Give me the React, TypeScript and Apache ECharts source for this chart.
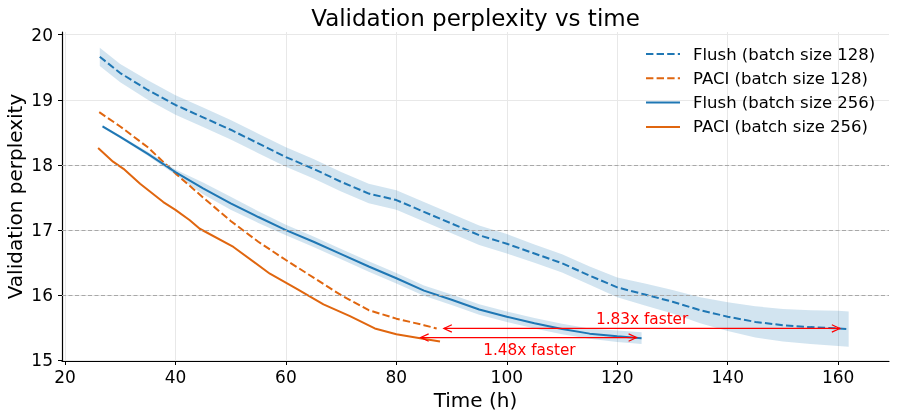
import React, { useEffect, useRef } from "react";
import * as echarts from "echarts";

const xTicks = [20, 40, 60, 80, 100, 120, 140, 160];
const yTicks = [15, 16, 17, 18, 19, 20];
const dashedYLines = [16, 17, 18];

const seriesNames = [
  "Flush (batch size 128)",
  "PACI (batch size 128)",
  "Flush (batch size 256)",
  "PACI (batch size 256)",
];

const flush128X = [26.3, 30, 35, 40, 45, 50, 55, 60, 65, 70, 75, 80, 85, 90, 95, 100, 105, 110, 115, 120, 125, 130, 135, 140, 145, 150, 155, 160, 161.9];
const flush128Y = [19.66, 19.41, 19.15, 18.92, 18.73, 18.54, 18.33, 18.12, 17.94, 17.74, 17.56, 17.46, 17.28, 17.1, 16.92, 16.79, 16.64, 16.49, 16.3, 16.12, 16.01, 15.9, 15.77, 15.67, 15.59, 15.54, 15.51, 15.49, 15.48];
const flush128Half = [0.14, 0.14, 0.15, 0.15, 0.15, 0.15, 0.15, 0.15, 0.15, 0.15, 0.15, 0.15, 0.15, 0.15, 0.15, 0.15, 0.14, 0.14, 0.14, 0.15, 0.17, 0.18, 0.2, 0.22, 0.24, 0.25, 0.26, 0.27, 0.27];

const paci128X = [26.2, 30, 35, 40, 45, 50, 55, 60, 65, 70, 75, 80, 85, 87.3];
const paci128Y = [18.81, 18.59, 18.27, 17.87, 17.5, 17.14, 16.82, 16.54, 16.27, 16.0, 15.77, 15.64, 15.54, 15.49];

const flush256X = [26.8, 30, 35, 40, 45, 50, 55, 60, 65, 70, 75, 80, 85, 90, 95, 100, 105, 110, 115, 120, 124.4];
const flush256Y = [18.59, 18.43, 18.17, 17.89, 17.64, 17.41, 17.2, 17.0, 16.82, 16.63, 16.44, 16.26, 16.07, 15.93, 15.78, 15.67, 15.57, 15.48, 15.41, 15.37, 15.34];
const flush256Half = [0.02, 0.02, 0.03, 0.04, 0.09, 0.1, 0.09, 0.08, 0.08, 0.08, 0.08, 0.08, 0.08, 0.08, 0.08, 0.08, 0.08, 0.08, 0.08, 0.09, 0.09];

const paci256X = [26.0, 28.7, 30.6, 33.6, 37.8, 40, 42.6, 44.4, 50.5, 57.1, 61.9, 66.8, 71.6, 76.1, 80.0, 84.3, 87.9];
const paci256Y = [18.26, 18.05, 17.94, 17.71, 17.43, 17.31, 17.15, 17.02, 16.74, 16.33, 16.1, 15.86, 15.68, 15.49, 15.4, 15.34, 15.29];

const arrowFrom = [88.6, 84.4];
const arrowTo = [160.3, 123.5];
const arrowY = [15.49, 15.35];
const arrowLabels = ["1.83x faster", "1.48x faster"];
const arrowLabelX = [124.5, 104.1];
const arrowLabelY = [15.64, 15.16];

const BLUE = "#1f77b4";
const ORANGE = "#e0660f";
const FONT = "DejaVu Sans";
const DASH = [7.4, 3.2];

function zip(xs: number[], ys: number[]) {
  return xs.map((x, i) => [x, ys[i]]);
}

function bandSeries(xs: number[], ys: number[], half: number[]) {
  const data = xs.map((x, i) => [x, ys[i] - half[i], ys[i] + half[i]]);
  return {
    type: "custom",
    silent: true,
    z: 1,
    data,
    encode: { x: 0, y: [1, 2] },
    renderItem: (params: any, api: any) => {
      if (params.dataIndex !== 0) return null;
      const top = data.map((d) => api.coord([d[0], d[2]]));
      const bot = data.map((d) => api.coord([d[0], d[1]])).reverse();
      return {
        type: "polygon",
        shape: { points: top.concat(bot) },
        style: { fill: "rgba(31,119,180,0.2)", stroke: "none" },
      };
    },
  };
}

export default function App() {
  const ref = useRef<HTMLDivElement>(null);
  useEffect(() => {
    if (!ref.current) return;
    const chart = echarts.init(ref.current, undefined, { renderer: "svg" });
    const arrowData = arrowFrom.map((a, i) => [a, arrowTo[i], arrowY[i]]);
    const labelData = arrowLabels.map((t, i) => [arrowLabelX[i], arrowLabelY[i], t]);
    const option: any = {
      animation: false,
      textStyle: { fontFamily: FONT },
      graphic: [
        {
          type: "text",
          x: 475.5,
          y: 18,
          style: {
            text: "Validation perplexity vs time",
            fontSize: 23,
            fontFamily: FONT,
            fill: "#000",
            align: "center",
            verticalAlign: "middle",
          },
        },
      ],
      grid: { left: 62, right: 8, top: 32, bottom: 57, containLabel: false, outerBoundsMode: "none" },
      legend: {
        orient: "vertical",
        left: 645,
        top: 45.5,
        padding: 0,
        itemWidth: 34,
        itemHeight: 14,
        itemGap: 7.3,
        data: seriesNames,
        itemStyle: { color: "rgba(0,0,0,0)", borderWidth: 0, opacity: 0 },
        textStyle: { fontSize: 16.5, fontFamily: FONT, color: "#000", lineHeight: 17, padding: [0, 0, 0, 8] },
      },
      xAxis: {
        type: "value",
        min: 19.46,
        max: 169.2,
        name: "Time (h)",
        nameLocation: "middle",
        nameGap: 29,
        nameMoveOverlap: false,
        nameTextStyle: { fontSize: 20, fontFamily: FONT, color: "#000" },
        axisLine: { lineStyle: { color: "#000", width: 1.2 } },
        axisTick: { show: true, length: 4, customValues: xTicks, lineStyle: { color: "#000", width: 1 } },
        axisLabel: { customValues: xTicks, fontSize: 17, fontFamily: FONT, color: "#000", margin: 7 },
        splitLine: { show: true, lineStyle: { color: "#e8e8e8", width: 1 } },
      },
      yAxis: {
        type: "value",
        min: 14.99,
        max: 20.04,
        name: "Validation perplexity",
        nameLocation: "middle",
        nameGap: 37.5,
        nameMoveOverlap: false,
        nameTextStyle: { fontSize: 20, fontFamily: FONT, color: "#000" },
        axisLine: { show: true, lineStyle: { color: "#000", width: 1.2 } },
        axisTick: { show: true, length: 4, customValues: yTicks, lineStyle: { color: "#000", width: 1 } },
        axisLabel: { customValues: yTicks, fontSize: 17, fontFamily: FONT, color: "#000", margin: 9 },
        splitLine: { show: true, lineStyle: { color: "#e8e8e8", width: 1 } },
      },
      series: [
        {
          type: "line",
          data: [],
          silent: true,
          z: 1,
          markLine: {
            silent: true,
            symbol: "none",
            label: { show: false },
            lineStyle: { color: "#a8a8a8", width: 1, type: [4, 2.5] },
            data: dashedYLines.map((v) => ({ yAxis: v })),
          },
        },
        bandSeries(flush128X, flush128Y, flush128Half),
        bandSeries(flush256X, flush256Y, flush256Half),
        {
          name: seriesNames[0],
          type: "line",
          data: zip(flush128X, flush128Y),
          symbol: "none",
          showSymbol: false,
          z: 3,
          lineStyle: { color: BLUE, width: 2, type: DASH },
          itemStyle: { color: BLUE },
        },
        {
          name: seriesNames[1],
          type: "line",
          data: zip(paci128X, paci128Y),
          symbol: "none",
          showSymbol: false,
          z: 3,
          lineStyle: { color: ORANGE, width: 2, type: DASH },
          itemStyle: { color: ORANGE },
        },
        {
          name: seriesNames[2],
          type: "line",
          data: zip(flush256X, flush256Y),
          symbol: "none",
          showSymbol: false,
          z: 3,
          lineStyle: { color: BLUE, width: 2 },
          itemStyle: { color: BLUE },
        },
        {
          name: seriesNames[3],
          type: "line",
          data: zip(paci256X, paci256Y),
          symbol: "none",
          showSymbol: false,
          z: 3,
          lineStyle: { color: ORANGE, width: 2 },
          itemStyle: { color: ORANGE },
        },
        {
          type: "custom",
          silent: true,
          z: 5,
          data: arrowData,
          encode: { x: [0, 1], y: 2 },
          renderItem: (params: any, api: any) => {
            const p1 = api.coord([api.value(0), api.value(2)]);
            const p2 = api.coord([api.value(1), api.value(2)]);
            const st = { stroke: "#ff0000", lineWidth: 1.2, fill: "none" };
            return {
              type: "group",
              children: [
                { type: "line", shape: { x1: p1[0], y1: p1[1], x2: p2[0], y2: p2[1] }, style: st },
                { type: "polyline", shape: { points: [[p1[0] + 8, p1[1] - 3.7], [p1[0], p1[1]], [p1[0] + 8, p1[1] + 3.7]] }, style: st },
                { type: "polyline", shape: { points: [[p2[0] - 8, p2[1] - 3.7], [p2[0], p2[1]], [p2[0] - 8, p2[1] + 3.7]] }, style: st },
              ],
            };
          },
        },
        {
          type: "custom",
          silent: true,
          z: 6,
          data: labelData,
          encode: { x: 0, y: 1 },
          renderItem: (params: any, api: any) => {
            const p = api.coord([api.value(0), api.value(1)]);
            return {
              type: "text",
              x: p[0],
              y: p[1],
              style: {
                text: labelData[params.dataIndex][2],
                fontSize: 15.3,
                fontFamily: FONT,
                fill: "#ff0000",
                align: "center",
                verticalAlign: "middle",
              },
            };
          },
        },
      ],
    };
    chart.setOption(option);
    return () => chart.dispose();
  }, []);
  return <div ref={ref} style={{ position: "fixed", left: 0, top: 0, width: 897, height: 418 }} />;
}
